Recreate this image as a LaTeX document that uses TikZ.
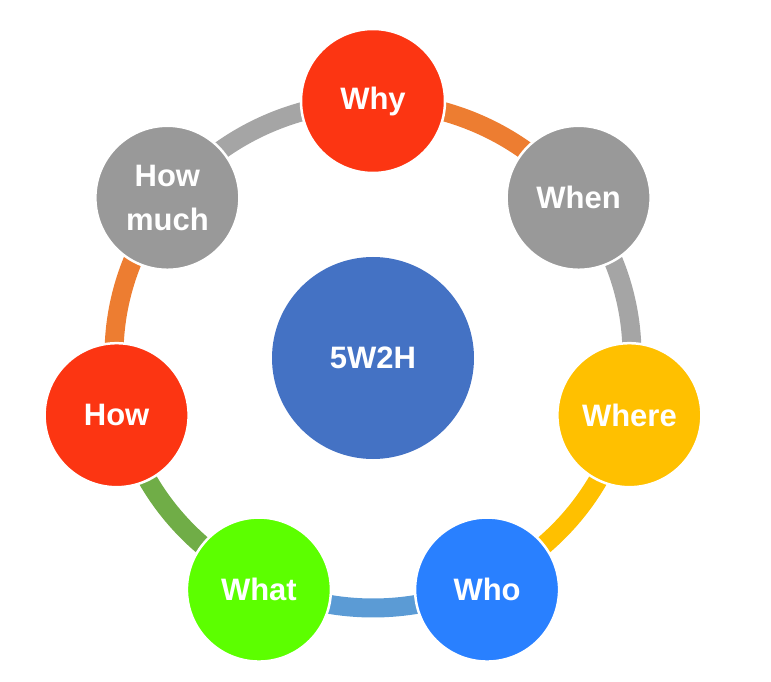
\documentclass[tikz,border=0pt]{standalone}
\usepackage{fontspec}
\setmainfont{Liberation Sans}
\usepackage{xcolor}
\usetikzlibrary{positioning, calc}
\definecolor{hubblue}{HTML}{4472C4}
\definecolor{petalred}{HTML}{FC3512}
\definecolor{petalgray}{HTML}{999999}
\definecolor{petalyellow}{HTML}{FFC000}
\definecolor{petalblue}{HTML}{2980FF}
\definecolor{petalgreen}{HTML}{5CFF00}
\definecolor{bandorange}{HTML}{ED7D31}
\definecolor{bandgray}{HTML}{A5A5A5}
\definecolor{bandyellow}{HTML}{FFC000}
\definecolor{bandblue}{HTML}{5B9BD5}
\definecolor{bandgreen}{HTML}{70AD47}

\begin{document}
\begin{tikzpicture}[x=1pt, y=1pt,
    petal/.style={circle, draw=white, line width=2.5pt, minimum size=144pt, inner sep=0pt,
                  text=white, align=center, font=\fontsize{31}{44}\selectfont\bfseries},
    band/.style={line width=19pt}]
    \useasboundingbox (0,0) rectangle (771,681);

    % center
    \node[circle, fill=hubblue, minimum size=202pt, inner sep=0pt, text=white,
          font=\fontsize{31}{44}\selectfont\bfseries] (hub) at (373,323) {5W2H};

    % ring positions
    \coordinate (ring) at (373,326);
    \coordinate (pwhy) at ($(hub)+(90:263pt and 257pt)$);
    \coordinate (pwhen) at ($(hub)+(38.57:263pt and 257pt)$);
    \coordinate (pwhere) at ($(hub)+(-12.86:263pt and 257pt)$);
    \coordinate (pwho) at ($(hub)+(-64.29:263pt and 257pt)$);
    \coordinate (pwhat) at ($(hub)+(-115.71:263pt and 257pt)$);
    \coordinate (phow) at ($(hub)+(-167.14:263pt and 257pt)$);
    \coordinate (phowmuch) at ($(hub)+(141.43:263pt and 257pt)$);

    % bands
    \draw[band, bandorange] ([shift={(90:259pt and 253pt)}]ring)
      arc[start angle=90, end angle=38.57, x radius=259pt, y radius=253pt];
    \draw[band, bandgray] ([shift={(38.57:259pt and 253pt)}]ring)
      arc[start angle=38.57, end angle=-12.86, x radius=259pt, y radius=253pt];
    \draw[band, bandyellow] ([shift={(-12.86:259pt and 253pt)}]ring)
      arc[start angle=-12.86, end angle=-64.29, x radius=259pt, y radius=253pt];
    \draw[band, bandblue] ([shift={(-64.29:259pt and 253pt)}]ring)
      arc[start angle=-64.29, end angle=-115.71, x radius=259pt, y radius=253pt];
    \draw[band, bandgreen] ([shift={(-115.71:259pt and 253pt)}]ring)
      arc[start angle=-115.71, end angle=-167.14, x radius=259pt, y radius=253pt];
    \draw[band, bandorange] ([shift={(-167.14:259pt and 253pt)}]ring)
      arc[start angle=-167.14, end angle=-218.57, x radius=259pt, y radius=253pt];
    \draw[band, bandgray] ([shift={(141.43:259pt and 253pt)}]ring)
      arc[start angle=141.43, end angle=90, x radius=259pt, y radius=253pt];

    % petals
    \node[petal, fill=petalred] (why) at (pwhy) {Why};
    \node[petal, fill=petalgray] (when) at (pwhen) {When};
    \node[petal, fill=petalyellow] (where) at (pwhere) {Where};
    \node[petal, fill=petalblue] (who) at (pwho) {Who};
    \node[petal, fill=petalgreen] (what) at (pwhat) {What};
    \node[petal, fill=petalred] (how) at (phow) {How};
    \node[petal, fill=petalgray] (howmuch) at (phowmuch) {How\\much};
\end{tikzpicture}
\end{document}
